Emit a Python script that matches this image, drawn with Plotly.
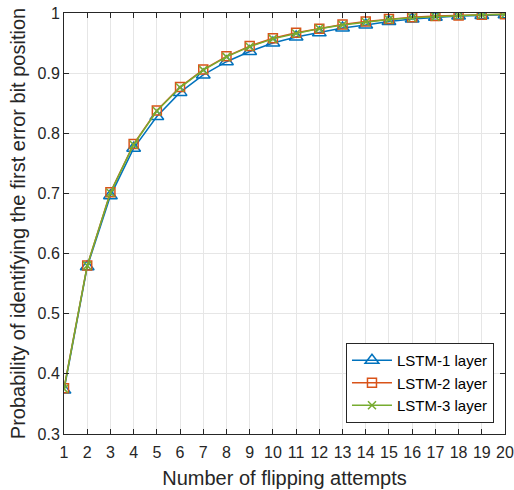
import plotly.graph_objects as go

attempts = list(range(1, 21))
lstm1 = [0.373, 0.578, 0.696, 0.775, 0.828, 0.868, 0.897, 0.919, 0.936, 0.950,
         0.960, 0.967, 0.975, 0.980, 0.986, 0.990, 0.993, 0.995, 0.996, 0.997]
lstm2 = [0.376, 0.580, 0.702, 0.782, 0.838, 0.877, 0.906, 0.928, 0.945, 0.958,
         0.967, 0.974, 0.981, 0.986, 0.990, 0.993, 0.995, 0.996, 0.997, 0.998]
lstm3 = [0.375, 0.580, 0.701, 0.781, 0.837, 0.876, 0.905, 0.927, 0.944, 0.957,
         0.966, 0.974, 0.980, 0.985, 0.989, 0.992, 0.994, 0.996, 0.997, 0.998]
names = ["LSTM-1 layer", "LSTM-2 layer", "LSTM-3 layer"]
y_ticks = [0.3, 0.4, 0.5, 0.6, 0.7, 0.8, 0.9, 1.0]

series = [
    (names[0], lstm1, "#0072BD", "triangle-up-open", 12),
    (names[1], lstm2, "#D95319", "square-open", 9),
    (names[2], lstm3, "#77AC30", "x-thin-open", 8),
]

fig = go.Figure()
for name, vals, color, sym, size in series:
    fig.add_trace(go.Scatter(
        x=attempts, y=vals, name=name, mode="lines+markers",
        line=dict(color=color, width=1.5),
        marker=dict(symbol=sym, size=size, color=color,
                    line=dict(color=color, width=1.5)),
    ))

font = "Liberation Sans, Arial, sans-serif"
fig.update_layout(
    width=514, height=490,
    margin=dict(l=64, r=9, t=13, b=56),
    paper_bgcolor="white", plot_bgcolor="white",
    font=dict(family=font, size=16, color="#262626"),
    showlegend=True,
    legend=dict(x=0.975, y=0.026, xanchor="right", yanchor="bottom",
                bordercolor="#262626", borderwidth=1, bgcolor="white",
                font=dict(size=15, color="#000000"),
                tracegroupgap=0, itemwidth=40),
    xaxis=dict(
        range=[1, 20], tickmode="array", tickvals=attempts,
        showgrid=True, gridcolor="#E6E6E6", gridwidth=1,
        showline=True, linecolor="#262626", linewidth=1, mirror="ticks",
        ticks="inside", ticklen=5, tickcolor="#262626",
        zeroline=False, ticklabelstandoff=4, automargin=False,
        title=dict(text="Number of flipping attempts", font=dict(size=20), standoff=10),
        tickfont=dict(size=16),
    ),
    yaxis=dict(
        range=[0.3, 1.0], tickmode="array", tickvals=y_ticks,
        showgrid=True, gridcolor="#E6E6E6", gridwidth=1,
        showline=True, linecolor="#262626", linewidth=1, mirror="ticks",
        ticks="inside", ticklen=5, tickcolor="#262626",
        zeroline=False, automargin=False,
        title=dict(text="Probability of identifying the first error bit position",
                   font=dict(size=20), standoff=6),
        tickfont=dict(size=16),
    ),
)

fig.write_html("out.html")
